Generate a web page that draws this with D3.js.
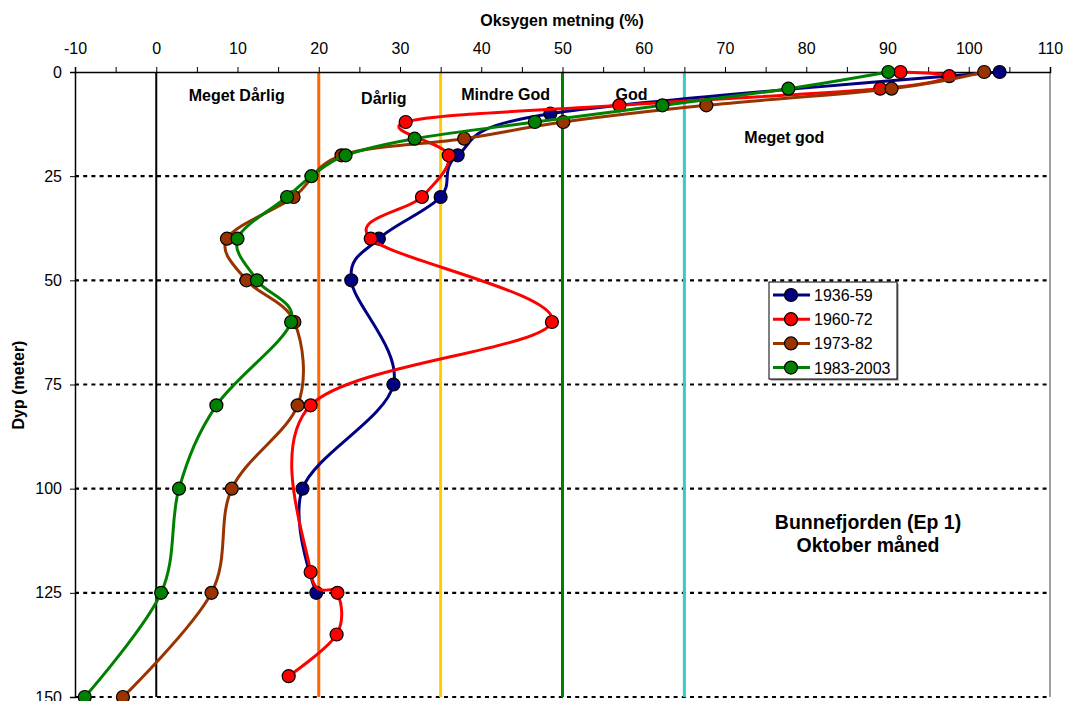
<!DOCTYPE html>
<html><head><meta charset="utf-8">
<script src="https://cdn.jsdelivr.net/npm/d3@7"></script>
<style>
html,body{margin:0;padding:0;background:#fff;}
svg{display:block;font-family:"Liberation Sans",Arial,sans-serif;}
</style></head>
<body><svg id="c" width="1066" height="701"></svg>
<script>
// ---- data ----
const seriesNames = ["1936-59", "1960-72", "1973-82", "1983-2003"];
const seriesColors = ["#000080", "#FF0000", "#993300", "#008000"];
const depth1936 = [0, 10, 20, 30, 40, 50, 75, 100, 125];
const oxy1936   = [103.8, 48.5, 37.1, 35.0, 27.4, 24.0, 29.2, 18.0, 19.7];
const depth1960 = [0, 1, 4, 8, 12, 20, 30, 40, 60, 80, 120, 125, 135, 145];
const oxy1960   = [91.6, 97.6, 89.1, 57.0, 30.7, 36.0, 32.7, 26.4, 48.7, 19.0, 19.0, 22.3, 22.2, 16.3];
const depth1973 = [0, 4, 8, 12, 16, 20, 30, 40, 50, 60, 80, 100, 125, 150];
const oxy1973   = [101.9, 90.5, 67.7, 50.1, 37.9, 22.8, 16.9, 8.7, 11.1, 17.0, 17.4, 9.3, 6.8, -4.1];
const depth1983 = [0, 4, 8, 12, 16, 20, 25, 30, 40, 50, 60, 80, 100, 125, 150];
const oxy1983   = [90.1, 77.8, 62.3, 46.6, 31.8, 23.3, 19.1, 16.1, 10.0, 12.4, 16.6, 7.4, 2.8, 0.6, -8.8];
const xTicks = [-10, 0, 10, 20, 30, 40, 50, 60, 70, 80, 90, 100, 110];
const yTicks = [0, 25, 50, 75, 100, 125, 150];
const gridDepths = [25, 50, 75, 100, 125, 150];
const classLimits = [0, 20, 35, 50, 65];
const classColors = ["#000000", "#FF6600", "#FFCC00", "#008000", "#33CCCC"];
const classLabels = ["Meget Dårlig", "Dårlig", "Mindre God", "God", "Meget god"];
const classLabelX = [9.9, 28, 43, 58.5, 77.3];
const classLabelDepth = [7, 7.6, 6.8, 6.6, 17];

const svg = d3.select("#c");
const x = d3.scaleLinear().domain([-10, 110]).range([75, 1050]);
const y = d3.scaleLinear().domain([0, 150]).range([72, 697]);

// horizontal dotted grid
svg.append("g").selectAll("line").data(gridDepths).join("line")
  .attr("x1", x(-10)).attr("x2", x(110))
  .attr("y1", d => y(d)).attr("y2", d => y(d))
  .attr("stroke", "#000").attr("stroke-width", 2.2).attr("stroke-dasharray", "4,4.2");

// right border
svg.append("line").attr("x1", x(110)).attr("x2", x(110)).attr("y1", y(0)).attr("y2", y(150))
  .attr("stroke", "#808080").attr("stroke-width", 1.5);

// class limit lines
svg.append("g").selectAll("line").data(classLimits).join("line")
  .attr("x1", d => x(d)).attr("x2", d => x(d))
  .attr("y1", y(0)).attr("y2", y(150))
  .attr("stroke", (d, i) => classColors[i]).attr("stroke-width", (d, i) => i === 0 ? 2 : 3);

// class labels
svg.append("g").selectAll("text").data(classLabels).join("text")
  .attr("x", (d, i) => x(classLabelX[i])).attr("y", (d, i) => y(classLabelDepth[i]))
  .attr("text-anchor", "middle").attr("font-weight", "bold").attr("font-size", "16px")
  .text(d => d);

// top axis
const minor = d3.range(-10, 111, 5);
const gx = svg.append("g").attr("transform", `translate(0,${y(0)})`)
  .call(d3.axisTop(x).tickValues(minor).tickSize(5).tickPadding(13)
    .tickFormat(d => xTicks.includes(d) ? d : ""));
gx.select(".domain").attr("stroke", "#000").attr("stroke-width", 1.5);
gx.selectAll(".tick line").attr("stroke", "#000").attr("stroke-width", 1);
gx.selectAll(".tick text").attr("font-size", "16px").attr("fill", "#000")
  .attr("font-family", "Liberation Sans, Arial, sans-serif");

// left axis
const gy = svg.append("g").attr("transform", `translate(${x(-10)},0)`)
  .call(d3.axisLeft(y).tickValues(yTicks).tickSize(5).tickPadding(8));
gy.select(".domain").attr("stroke", "#000").attr("stroke-width", 1.5);
gy.selectAll(".tick line").attr("stroke", "#000");
gy.selectAll(".tick text").attr("font-size", "16px").attr("fill", "#000")
  .attr("font-family", "Liberation Sans, Arial, sans-serif");

// axis titles
svg.append("text").attr("x", 562).attr("y", 26).attr("text-anchor", "middle")
  .attr("font-weight", "bold").attr("font-size", "16px").text("Oksygen metning (%)");
svg.append("text").attr("transform", "translate(24,385) rotate(-90)").attr("text-anchor", "middle")
  .attr("font-weight", "bold").attr("font-size", "16px").text("Dyp (meter)");

// series
const series = [
  {d: depth1936, v: oxy1936},
  {d: depth1960, v: oxy1960},
  {d: depth1973, v: oxy1973},
  {d: depth1983, v: oxy1983}
];
const line = d3.line().x(p => x(p[1])).y(p => y(p[0])).curve(d3.curveCardinal.tension(0));
series.forEach((s, i) => {
  const pts = s.d.map((dd, k) => [dd, s.v[k]]);
  const g = svg.append("g");
  g.append("path").attr("d", line(pts)).attr("fill", "none")
    .attr("stroke", seriesColors[i]).attr("stroke-width", 3).attr("stroke-linejoin", "round");
  g.selectAll("circle").data(pts).join("circle")
    .attr("cx", p => x(p[1])).attr("cy", p => y(p[0])).attr("r", 6.5)
    .attr("fill", seriesColors[i]).attr("stroke", "#000").attr("stroke-width", 1.2);
});

// legend
const lg = svg.append("g").attr("transform", "translate(769,282)");
lg.append("rect").attr("x", 1.5).attr("y", 1.5).attr("width", 128).attr("height", 97).attr("fill", "#808080");
lg.append("rect").attr("x", 0).attr("y", 0).attr("width", 128).attr("height", 97)
  .attr("fill", "#fff").attr("stroke", "#000").attr("stroke-width", 1);
seriesNames.forEach((n, i) => {
  const yy = 13 + i * 24.2;
  lg.append("line").attr("x1", 4).attr("x2", 41).attr("y1", yy).attr("y2", yy)
    .attr("stroke", seriesColors[i]).attr("stroke-width", 3);
  lg.append("circle").attr("cx", 22).attr("cy", yy).attr("r", 6.5)
    .attr("fill", seriesColors[i]).attr("stroke", "#000").attr("stroke-width", 1.2);
  lg.append("text").attr("x", 45).attr("y", yy + 6).attr("font-size", "16px").text(n);
});

// annotation
const ann = svg.append("g").attr("text-anchor", "middle").attr("font-weight", "bold").attr("font-size", "19.5px");
ann.append("text").attr("x", 868).attr("y", 529).text("Bunnefjorden (Ep 1)");
ann.append("text").attr("x", 868).attr("y", 552).text("Oktober måned");
</script></body></html>
